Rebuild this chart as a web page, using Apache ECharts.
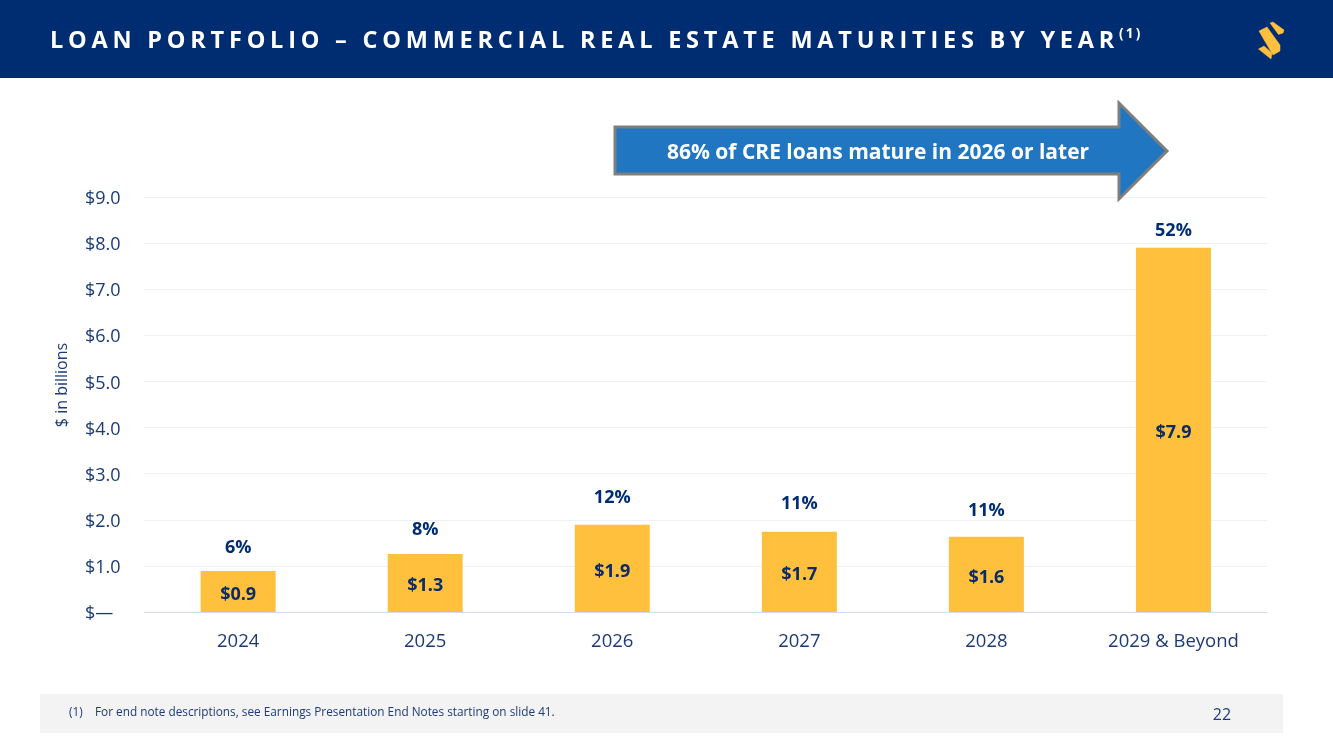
<!DOCTYPE html>
<html><head><meta charset="utf-8">
<script src="https://cdn.jsdelivr.net/npm/echarts@6/dist/echarts.min.js"></script>
<style>
html,body{margin:0;padding:0;background:#fff;width:1333px;height:749px;overflow:hidden}
#c{position:absolute;left:0;top:0;width:1333px;height:749px}
#t{position:absolute;left:50px;top:23px;color:#fff;font:700 23.5px "Open Sans";letter-spacing:4.775px;white-space:nowrap;line-height:32px}
#t sup{font-size:13.5px;letter-spacing:2.2px;line-height:0;position:relative;top:-1px;vertical-align:super}
</style></head><body>
<div id="c"></div>
<div id="t">LOAN PORTFOLIO – COMMERCIAL REAL ESTATE MATURITIES BY YEAR<sup>(1)</sup></div>
<script>
const categories=['2024','2025','2026','2027','2028','2029 & Beyond'];
const values=[0.89,1.26,1.89,1.74,1.63,7.9];
const valueLabels=['$0.9','$1.3','$1.9','$1.7','$1.6','$7.9'];
const shareLabels=['6%','8%','12%','11%','11%','52%'];
const shareGaps=[14,15,18,19,17,8];
const axisTicks=['$—','$1.0','$2.0','$3.0','$4.0','$5.0','$6.0','$7.0','$8.0','$9.0'];
const navy='#002d72',ink='#1c3a76',font='Open Sans';
const chart=echarts.init(document.getElementById('c'),null,{renderer:'canvas'});
const logo=[
 [[1270,23],[1273,22],[1284,30],[1283,33],[1278.5,34.5]],
 [[1259,31],[1267,27],[1280,45],[1280,51],[1273,55],[1263,38]],
 [[1258.5,49],[1264,46],[1272,53],[1271,59]]
];
chart.setOption({
 animation:false,
 grid:{left:144.6,right:66,top:197,bottom:137},
 xAxis:{type:'category',data:categories,axisTick:{show:false},
  axisLine:{lineStyle:{color:'#cfdcf0',width:1}},
  axisLabel:{color:ink,fontFamily:font,fontSize:18.5,margin:20}},
 yAxis:{type:'value',min:0,max:9,interval:1,
  axisLine:{show:false},axisTick:{show:false},
  splitLine:{lineStyle:{color:'#eff1f4',width:1}},
  axisLabel:{color:ink,fontFamily:font,fontSize:18,align:'left',margin:59.6,verticalAlign:'top',lineHeight:4,
   formatter:(v)=>axisTicks[Math.round(v)]}},
 series:[{type:'bar',data:values.map((v,i)=>({value:v,label:{formatter:valueLabels[i]}})),barWidth:75,
   itemStyle:{color:'#ffc03d'},
   label:{show:true,position:'inside',offset:[0,3],color:'#0b2b66',fontFamily:font,fontSize:18,fontWeight:700},z:2},
  {type:'bar',data:values.map((v,i)=>({value:v,label:{formatter:shareLabels[i],distance:shareGaps[i]}})),barWidth:75,barGap:'-100%',
   itemStyle:{color:'transparent'},
   label:{show:true,position:'top',color:navy,fontFamily:font,fontSize:18,fontWeight:700},z:3}],
 graphic:[
  {type:'rect',shape:{x:0,y:0,width:1333,height:78},style:{fill:'#002d72'},z:-1},
  ...logo.map(p=>({type:'polygon',shape:{points:p},style:{fill:'#ffc03d',stroke:'#ffc03d',lineWidth:0.5,lineJoin:'round'},z:5})),
  {type:'polygon',z:5,shape:{points:[[615,127],[1119,127],[1119,103],[1167,151],[1119,199],[1119,174],[615,174]]},
   style:{fill:'#2176c1',stroke:'#7f7f7f',lineWidth:3}},
  {type:'text',z:6,x:878,y:153,style:{text:'86% of CRE loans mature in 2026 or later',fill:'#fff',font:'700 21px "Open Sans"',align:'center',verticalAlign:'middle'}},
  {type:'text',z:6,x:62,y:385,rotation:Math.PI/2,style:{text:'$ in billions',fill:ink,font:'16px "Open Sans"',align:'center',verticalAlign:'middle'}},
  {type:'rect',z:-1,shape:{x:40,y:694,width:1243,height:39},style:{fill:'#f3f3f3'}},
  {type:'text',z:6,x:69,y:713,style:{text:'(1)',fill:ink,font:'11.8px "Open Sans"',align:'left',verticalAlign:'middle'}},
  {type:'text',z:6,x:95,y:713,style:{text:'For end note descriptions, see Earnings Presentation End Notes starting on slide 41.',fill:ink,font:'11.8px "Open Sans"',align:'left',verticalAlign:'middle'}},
  {type:'text',z:6,x:1222,y:715,style:{text:'22',fill:ink,font:'16px "Open Sans"',align:'center',verticalAlign:'middle'}}
 ]
});
</script></body></html>
